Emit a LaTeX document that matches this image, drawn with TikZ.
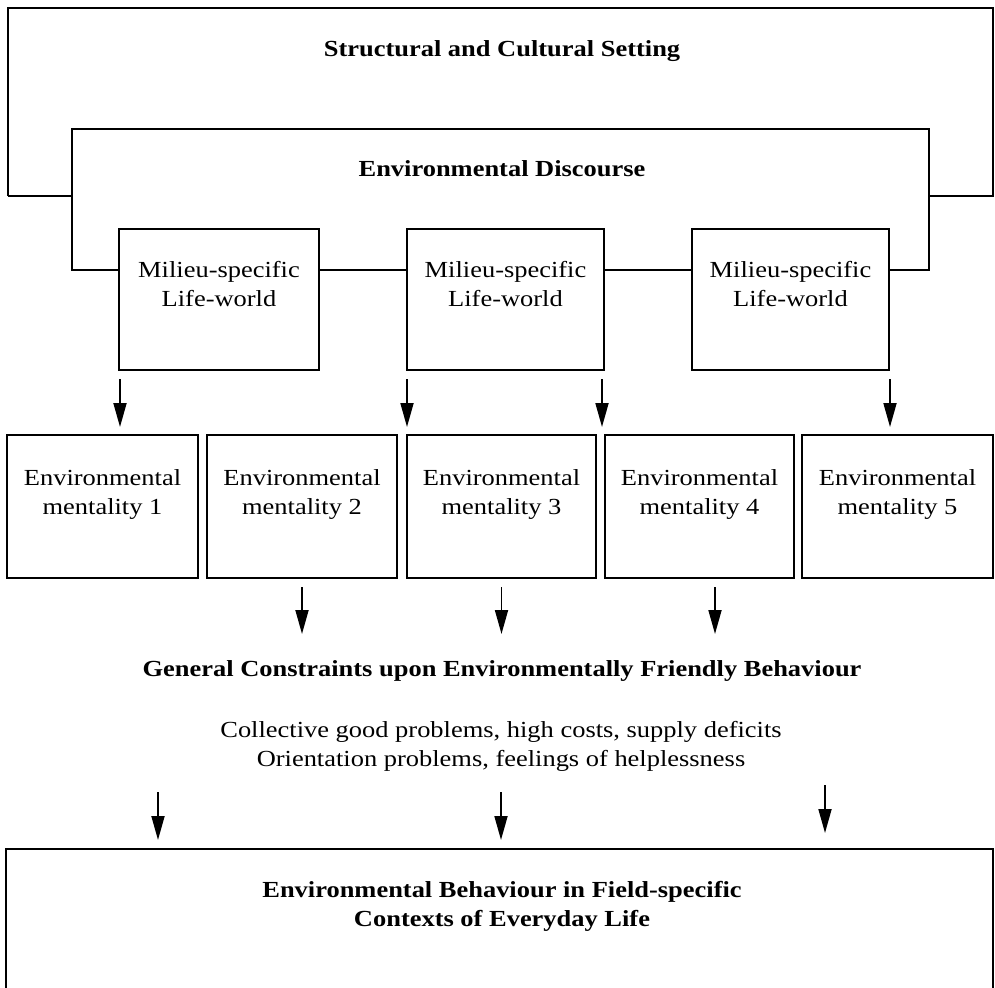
\documentclass[tikz,border=0pt]{standalone}
\usepackage{fontspec}
\setmainfont[FakeStretch=1.15]{Liberation Serif}
\usetikzlibrary{arrows.meta}

\tikzset{
  frame/.style={line width=2pt, line join=miter},
  box/.style={draw, line width=2pt, rectangle, inner sep=0pt},
  txt/.style={inner sep=0pt, anchor=base, align=center},
  bold/.style={font=\fontsize{23}{28.5}\selectfont\bfseries},
  arr/.style={line width=1.8pt, -{Triangle[length=24pt,width=13pt]}},
}

\begin{document}
\begin{tikzpicture}[x=1pt, y=-1pt, font=\fontsize{23}{28.5}\selectfont]
\useasboundingbox (0,0) rectangle (995,987);

% outer setting frame
\coordinate (sL) at (8,196);
\coordinate (sR) at (993,196);
\draw[frame] (sL) -- (8,8) -- (993,8) -- (sR) -- (929,196);
\draw[frame] (sL) -- (72,196);
\node[txt, bold] (tSetting) at (502,57) {Structural and Cultural Setting};

% discourse frame title
\node[txt, bold] (tDiscourse) at (502,177) {Environmental Discourse};

% milieu boxes
\node[box, minimum width=200pt, minimum height=141pt] (m1) at (219,299.5) {};
\node[box, minimum width=197pt, minimum height=141pt] (m2) at (505.5,299.5) {};
\node[box, minimum width=197pt, minimum height=141pt] (m3) at (790.5,299.5) {};

\draw[frame] ([yshift=29.5pt]m1.west) -| (72,129) -- (929,129) |- ([yshift=29.5pt]m3.east);
\draw[frame] ([yshift=29.5pt]m1.east) -- ([yshift=29.5pt]m2.west);
\draw[frame] ([yshift=29.5pt]m2.east) -- ([yshift=29.5pt]m3.west);

% (base anchor of a two-line node sits on its last line)
\node[txt] (tm1) at (219,306) {Milieu-specific\\Life-world};
\node[txt] (tm2) at (505.5,306) {Milieu-specific\\Life-world};
\node[txt] (tm3) at (790.5,306) {Milieu-specific\\Life-world};

% mentality boxes
\node[box, minimum width=191pt, minimum height=143pt] (e1) at (102.5,506.5) {};
\node[box, minimum width=190pt, minimum height=143pt] (e2) at (302,506.5) {};
\node[box, minimum width=189pt, minimum height=143pt] (e3) at (501.5,506.5) {};
\node[box, minimum width=189pt, minimum height=143pt] (e4) at (699.5,506.5) {};
\node[box, minimum width=191pt, minimum height=143pt] (e5) at (897.5,506.5) {};

\node[txt] (te1) at (102.5,514) {Environmental\\mentality 1};
\node[txt] (te2) at (302,514) {Environmental\\mentality 2};
\node[txt] (te3) at (501.5,514) {Environmental\\mentality 3};
\node[txt] (te4) at (699.5,514) {Environmental\\mentality 4};
\node[txt] (te5) at (897.5,514) {Environmental\\mentality 5};

% arrows from life-worlds to mentalities
\coordinate (a1) at (120,379);
\coordinate (a2) at (407,379);
\coordinate (a3) at (602,379);
\coordinate (a4) at (890,379);
\draw[arr] (a1) -- ++(0,48);
\draw[arr] (a2) -- ++(0,48);
\draw[arr] (a3) -- ++(0,48);
\draw[arr] (a4) -- ++(0,48);

% arrows from mentalities to constraints
\draw[arr] ([yshift=-8pt]e2.south) -- ++(0,47);
\draw[arr] ([yshift=-8pt]e3.south) -- ++(0,47);
\draw[arr] ([yshift=-8pt]e4.south -| 715,0) -- ++(0,47);

% constraints
\node[txt, bold] (tConstr) at (502,676) {General Constraints upon Environmentally Friendly Behaviour};
\node[txt] (tProblems) at (501,766) {Collective good problems, high costs, supply deficits\\Orientation problems, feelings of helplessness};

% arrows to behaviour
\coordinate (b1) at (158,792);
\coordinate (b2) at (501,792);
\coordinate (b3) at (825,785);
\draw[arr] (b1) -- ++(0,48);
\draw[arr] (b2) -- ++(0,48);
\draw[arr] (b3) -- ++(0,48);

% behaviour box (open at the bottom)
\draw[frame] (6,990) -- (6,849) -- (993,849) -- (993,990);
\node[txt, bold] (tBehaviour) at (502,926) {Environmental Behaviour in Field-specific\\Contexts of Everyday Life};
\end{tikzpicture}
\end{document}
